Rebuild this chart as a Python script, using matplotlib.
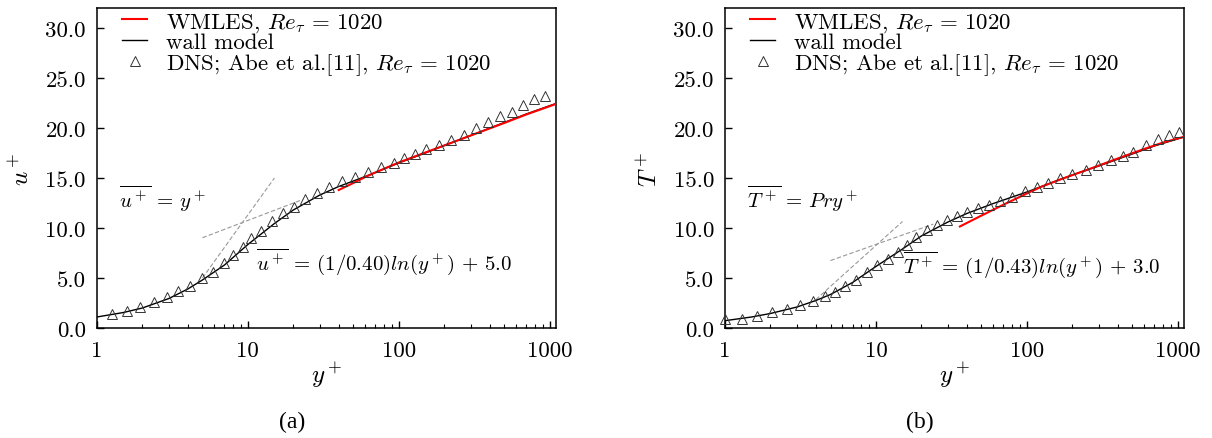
import numpy as np
import matplotlib
matplotlib.use("Agg")
import matplotlib.pyplot as plt
from matplotlib.ticker import FixedLocator, FixedFormatter, LogLocator, NullFormatter

plt.rcParams['font.family'] = 'serif'
plt.rcParams['font.serif'] = ['cmr10', 'DejaVu Serif']
plt.rcParams['mathtext.fontset'] = 'cm'
plt.rcParams['axes.formatter.use_mathtext'] = True

# ---- panel (a): velocity ----
dns_u_y = [1.26, 1.58, 1.94, 2.38, 2.90, 3.45, 4.14, 4.99, 5.84, 7.00, 8.02, 9.33,
           10.5, 12.2, 14.5, 17.2, 20.1, 23.9, 28.8, 34.7, 42.2, 51.0, 62.4, 76.4,
           92.7, 109, 129, 152, 185, 223, 270, 325, 391, 466, 561, 665, 792, 933]
dns_u = [1.43, 1.69, 2.09, 2.55, 3.05, 3.65, 4.24, 4.97, 5.63, 6.50, 7.29, 8.05,
         8.95, 9.71, 10.71, 11.53, 12.13, 12.86, 13.52, 14.09, 14.68, 15.11, 15.64, 16.08,
         16.54, 16.97, 17.43, 17.87, 18.33, 18.76, 19.29, 19.95, 20.62, 21.15, 21.64, 22.27, 22.87, 23.20]
wall_u_y = [1, 1.5, 2, 3, 4, 5, 7, 10, 15, 20, 30, 40, 60, 100, 150, 200, 300, 500, 700, 1100]
wall_u = [1.1, 1.55, 2.0, 2.95, 3.9, 4.8, 6.3, 8.35, 10.45, 11.8, 13.3, 14.15, 15.15, 16.5,
          17.5, 18.25, 19.25, 20.55, 21.4, 22.45]
les_u_y = [40, 50, 60, 70, 85, 100, 150, 200, 300, 500, 700, 1100]
les_u = [13.8, 14.5, 15.1, 15.55, 16.1, 16.55, 17.55, 18.25, 19.25, 20.5, 21.35, 22.4]

# ---- panel (b): temperature ----
dns_t_y = [1.0, 1.29, 1.64, 2.04, 2.57, 3.15, 3.80, 4.61, 5.37, 6.26, 7.40, 8.71,
           10.2, 12.0, 14.0, 16.1, 18.5, 21.8, 25.4, 29.6, 34.5, 40.2, 47.3, 56.0,
           65.9, 80.0, 96.5, 116, 139, 167, 200, 245, 296, 359, 434, 506, 620, 740, 876, 1020]
dns_t = [0.9, 0.9, 1.22, 1.55, 1.92, 2.25, 2.65, 3.15, 3.6, 4.2, 4.8, 5.55,
         6.25, 6.9, 7.6, 8.3, 9.1, 9.75, 10.3, 10.75, 11.15, 11.55, 11.95, 12.3,
         12.7, 13.1, 13.65, 14.05, 14.5, 15.0, 15.4, 15.8, 16.25, 16.8, 17.2, 17.6, 18.3, 18.9, 19.25, 19.55]
wall_t_y = [1, 1.5, 2, 3, 4, 5, 7, 10, 15, 20, 30, 40, 60, 100, 150, 200, 300, 500, 700, 1100]
wall_t = [0.73, 1.1, 1.45, 2.1, 2.75, 3.35, 4.55, 6.15, 7.9, 9.2, 10.6, 11.45, 12.45, 13.6,
          14.6, 15.3, 16.2, 17.4, 18.2, 19.1]
les_t_y = [36, 50, 70, 100, 126, 170, 271, 400, 585, 800, 1100]
les_t = [10.15, 11.24, 12.33, 13.45, 14.15, 14.9, 16.0, 16.95, 17.85, 18.55, 19.12]

kappa_u, b_u = 0.40, 5.0
kappa_t, b_t = 0.43, 3.0
Pr = 0.71

fig = plt.figure(figsize=(12.12, 4.39), dpi=100)
ax1 = fig.add_axes([0.0800, 0.2506, 0.3787, 0.7289])
ax2 = fig.add_axes([0.5982, 0.2506, 0.3787, 0.7289])


def style_axes(ax):
    ax.set_xscale('log')
    ax.set_xlim(1, 1100)
    ax.set_ylim(0, 32)
    ax.xaxis.set_major_locator(FixedLocator([1, 10, 100, 1000]))
    ax.xaxis.set_major_formatter(FixedFormatter(['1', '10', '100', '1000']))
    ax.xaxis.set_minor_locator(LogLocator(base=10, subs=np.arange(2, 10)))
    ax.xaxis.set_minor_formatter(NullFormatter())
    ax.set_yticks([0, 5, 10, 15, 20, 25, 30])
    ax.set_yticklabels(['0.0', '5.0', '10.0', '15.0', '20.0', '25.0', '30.0'])
    ax.tick_params(which='both', direction='in', top=False, right=False, labelsize=16.5)
    ax.tick_params(which='major', length=5, width=1)
    ax.tick_params(which='minor', length=3, width=0.8)
    ax.tick_params(axis='y', pad=8)
    ax.tick_params(axis='x', pad=9)
    for s in ax.spines.values():
        s.set_linewidth(1.1)
    ax.set_xlabel('$y^+$', fontsize=18, labelpad=0)


# panel a
yl = np.array([5, 15])
ax1.plot(yl, yl, '--', color='#999999', lw=0.8, dashes=(4, 2))
yg = np.array([5, 23])
ax1.plot(yg, np.log(yg) / kappa_u + b_u, '--', color='#999999', lw=0.8, dashes=(4, 2))
ax1.plot(les_u_y, les_u, color='#ff0000', lw=1.5, label=r'WMLES, $Re_\tau\,=\,1020$', zorder=4)
ax1.plot(wall_u_y, wall_u, color='black', lw=1.0, label='wall model', zorder=3)
ax1.plot(dns_u_y, dns_u, '^', ms=6.5, fillstyle='none', mec='#333333', mew=0.7,
         label=r'DNS; Abe et al.[11], $Re_\tau\,=\,1020$', zorder=5)
style_axes(ax1)
ax1.set_ylabel('$u^+$', fontsize=18, labelpad=8)
ax1.text(1.4, 13.0, r'$\overline{u^+}\,=\,y^+$', fontsize=15, va='center')
ax1.text(11.3, 6.7, r'$\overline{u^+}\,=\,(1/0.40)ln(y^+)\,+\,5.0$', fontsize=15, va='center')

# panel b
yl = np.array([4, 15])
ax2.plot(yl, Pr * yl, '--', color='#999999', lw=0.8, dashes=(4, 2))
yg = np.array([5, 24])
ax2.plot(yg, np.log(yg) / kappa_t + b_t, '--', color='#999999', lw=0.8, dashes=(4, 2))
ax2.plot(les_t_y, les_t, color='#ff0000', lw=1.5, label=r'WMLES, $Re_\tau\,=\,1020$', zorder=4)
ax2.plot(wall_t_y, wall_t, color='black', lw=1.0, label='wall model', zorder=3)
ax2.plot(dns_t_y, dns_t, '^', ms=6.5, fillstyle='none', mec='#333333', mew=0.7,
         label=r'DNS; Abe et al.[11], $Re_\tau\,=\,1020$', zorder=5, clip_on=False)
style_axes(ax2)
ax2.set_ylabel('$T^+$', fontsize=18, labelpad=8)
ax2.text(1.4, 13.0, r'$\overline{T^+}\,=\,Pry^+$', fontsize=15, va='center')
ax2.text(15.2, 6.4, r'$\overline{T^+}\,=\,(1/0.43)ln(y^+)\,+\,3.0$', fontsize=15, va='center')

for ax in (ax1, ax2):
    ax.legend(loc='upper left', frameon=False, fontsize=16.5, handlelength=1.1,
              handletextpad=0.8, labelspacing=-0.05, borderaxespad=0.0,
              bbox_to_anchor=(0.035, 1.02))

fig.text(292 / 1212, 1 - 422 / 439, '(a)', family='Liberation Serif', fontsize=17,
         ha='center', va='center')
fig.text(920 / 1212, 1 - 422 / 439, '(b)', family='Liberation Serif', fontsize=17,
         ha='center', va='center')

fig.savefig('out.png', dpi=100)
